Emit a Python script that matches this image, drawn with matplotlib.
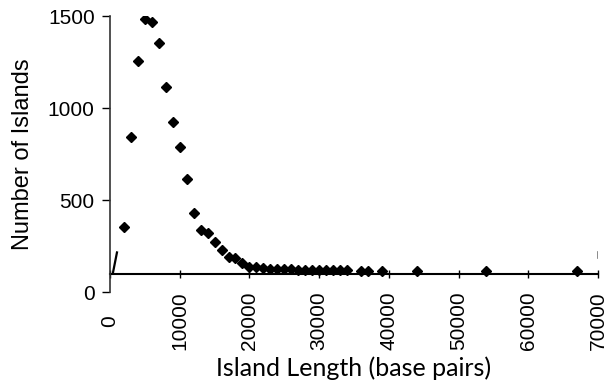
import matplotlib.pyplot as plt

# island length (bp) vs number of islands
length = [2000, 3000, 4000, 5000, 6000, 7000, 8000, 9000, 10000, 11000,
          12000, 13000, 14000, 15000, 16000, 17000, 18000, 19000, 20000, 21000,
          22000, 23000, 24000, 25000, 26000, 27000, 28000, 29000, 30000, 31000,
          32000, 33000, 34000, 36000, 37000, 39000, 44000, 54000, 67000]
count = [353, 844, 1257, 1482, 1469, 1352, 1116, 922, 786, 612,
         429, 337, 322, 273, 228, 189, 183, 159, 134, 138,
         132, 126, 125, 126, 124, 122, 121, 121, 120, 118,
         118, 118, 118, 116, 116, 114, 114, 114, 114]

# short stub at the start of the series and the stray mark at the right end
stub_x = [400, 1000]
stub_y = [100, 215]
mark_x = [70000, 70000]
mark_y = [185, 215]

axis_cross = 100
xticks = [0, 10000, 20000, 30000, 40000, 50000, 60000, 70000]
yticks = [0, 500, 1000, 1500]

plt.rcParams['font.family'] = ['Liberation Sans', 'DejaVu Sans']

fig = plt.figure(figsize=(6.11, 3.86), dpi=100)
ax = fig.add_axes([110/611, 1-292/386, (598-110)/611, (292-16)/386])

ax.plot(stub_x, stub_y, color='black', lw=1.6)
ax.plot(mark_x, mark_y, color='#777777', lw=1.2)
ax.plot(length, count, 'D', color='black', ms=5, ls='none')

ax.set_xlim(0, 70000)
ax.set_ylim(0, 1500)
ax.set_yticks(yticks)
ax.set_xticks(xticks)
ax.set_xticklabels([str(t) for t in xticks], rotation=90, fontsize=15,
                   va='center', ha='center')
ax.tick_params(axis='x', length=0, pad=21)
ax.tick_params(axis='y', labelsize=15, length=6, width=1, direction='out', pad=5)

for s in ['top', 'right', 'bottom']:
    ax.spines[s].set_visible(False)
ax.spines['left'].set_color('#333333')
ax.spines['left'].set_linewidth(1.2)

# horizontal axis line crossing at y = 100
sec = ax.secondary_xaxis(axis_cross / 1500)
sec.set_xticks(xticks)
sec.tick_params(axis='x', length=6, width=1, direction='inout', labelbottom=False)
sec.spines['bottom'].set_linewidth(1.5)
sec.spines['bottom'].set_color('black')

ax.set_ylabel('Number of Islands', fontsize=17, labelpad=10)
ax.set_xlabel('Island Length (base pairs)', fontsize=18, family=['Lato', 'DejaVu Sans'], labelpad=4)

fig.savefig('out.png', dpi=100)
